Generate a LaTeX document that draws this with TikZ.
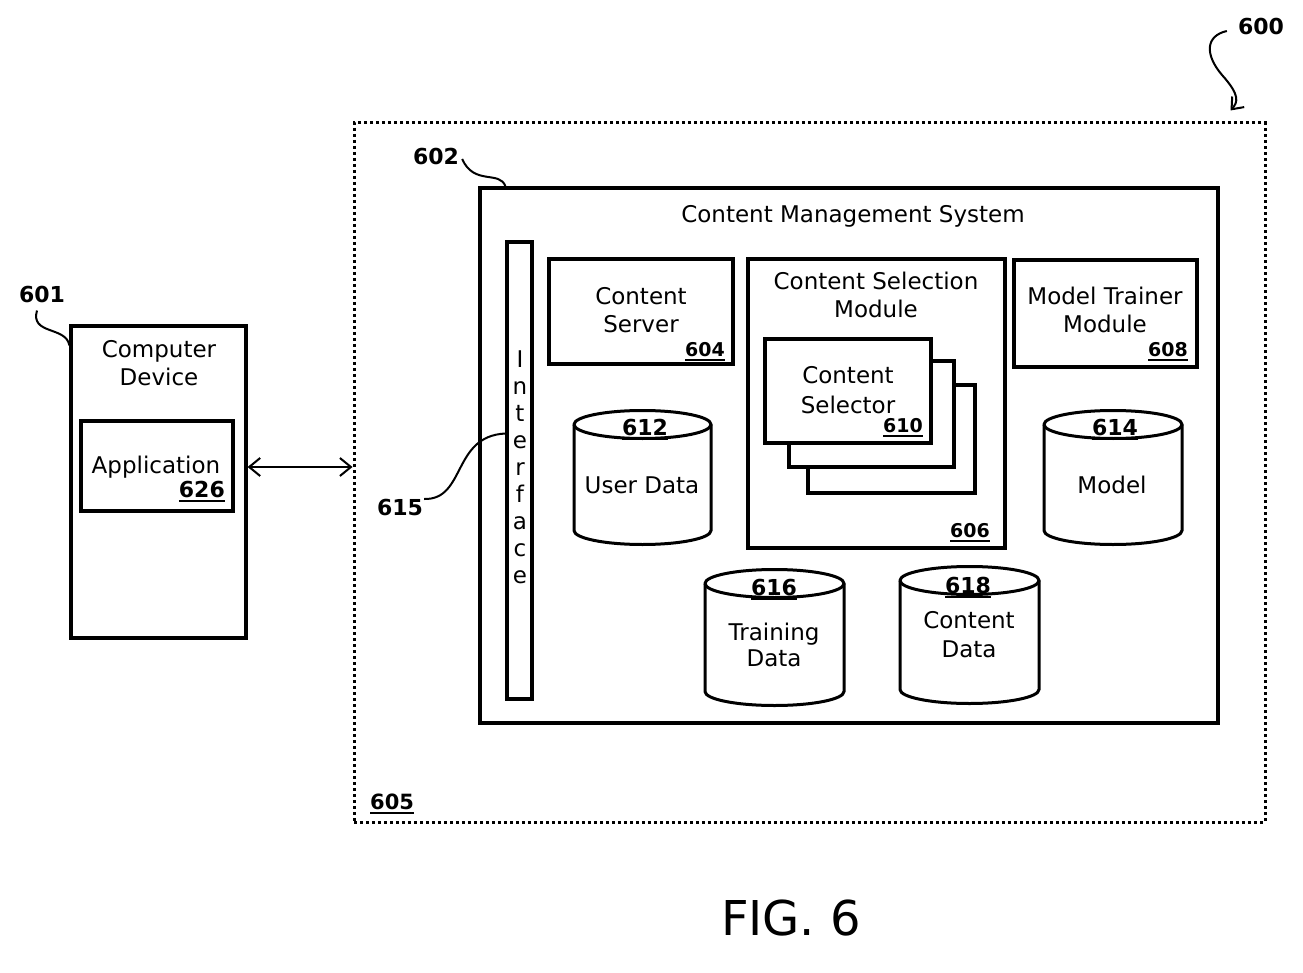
\documentclass[tikz,border=0pt]{standalone}
\usepackage{fontspec}
\setmainfont{DejaVu Sans}
\usetikzlibrary{arrows.meta,fit,calc}
\newcommand{\ulbf}[1]{\vtop{\hbox{\bfseries #1}\kern2.5pt\hrule height 2.2pt}}
\newcommand{\fs}[1]{\fontsize{#1}{#1}\selectfont}
\newcommand{\cyl}[5]{%
  \coordinate (#1) at (#2,{(#3+#4)/2});
  \draw[cylline, fill=white] (#2-#5,#3+14) -- (#2-#5,#4-14)
     arc[start angle=180,end angle=360,x radius=#5pt,y radius=14pt]
     -- (#2+#5,#3+14)
     arc[start angle=0,end angle=180,x radius=#5pt,y radius=14pt] -- cycle;
  \draw[cylline] (#2-#5,#3+14)
     arc[start angle=180,end angle=360,x radius=#5pt,y radius=14pt];
}
\begin{document}
\begin{tikzpicture}[x=1pt,y=-1pt,
  box/.style={draw, line width=3.2pt, fill=white, inner sep=0pt},
  cylline/.style={line width=3pt},
  txt/.style={inner sep=0pt, anchor=base, font=\fs{23}},
  ref/.style={inner sep=0pt, anchor=base, font=\fs{22}\bfseries},
  lead/.style={line width=2pt},
  tipA/.style={line width=2pt, {Straight Barb[length=11pt,width=18pt]}-{Straight Barb[length=11pt,width=18pt]}}
]
\useasboundingbox (0,0) rectangle (1303,973);

% outer dotted system boundary
\node[draw, line width=3pt, dash pattern=on 3pt off 3pt, inner sep=0pt,
      fit={(354,123) (1265,822)}] (outer) {};
\node[inner sep=0pt, anchor=base west, font=\fs{21}] (l605) at (370,809) {\ulbf{605}};

% content management system
\node[box, fit={(480,188) (1218,723)}] (cms) {};
\node[txt] (tcms) at (853,223) {Content Management System};

% interface bar
\node[box, fit={(507,242) (532,699)}] (iface) {};
\foreach \ch [count=\i] in {I,n,t,e,r,f,a,c,e}
  \node[txt] (if\i) at (520,{367+27*(\i-1)}) {\ch};

% content server
\node[box, fit={(549,259) (733,364)}] (cs) {};
\node[txt] (cs1) at (641,305) {Content};
\node[txt] (cs2) at (641,333) {Server};
\node[inner sep=0pt, anchor=base east, font=\fs{19}] (l604) at (725,356) {\ulbf{604}};

% content selection module
\node[box, fit={(748,259) (1005,548)}] (csm) {};
\node[txt] (csm1) at (876,290) {Content Selection};
\node[txt] (csm2) at (876,318) {Module};
\node[inner sep=0pt, anchor=base east, font=\fs{19}] (l606) at (990,537) {\ulbf{606}};

% stacked content selectors
\node[box, fit={(808,385) (975,493)}] (sel3) {};
\node[box, fit={(789,361) (954,467)}] (sel2) {};
\node[box, fit={(765,339) (931,443)}] (sel1) {};
\node[txt] (sel1a) at (848,383) {Content};
\node[txt] (sel1b) at (848,413) {Selector};
\node[inner sep=0pt, anchor=base east, font=\fs{19}] (l610) at (923,432) {\ulbf{610}};

% model trainer module
\node[box, fit={(1014,260) (1197,367)}] (mtm) {};
\node[txt] (mtm1) at (1105,305) {Model Trainer};
\node[txt] (mtm2) at (1105,333) {Module};
\node[inner sep=0pt, anchor=base east, font=\fs{19}] (l608) at (1188,356) {\ulbf{608}};

% data stores
\cyl{ud}{642.5}{410.5}{544.5}{68.5}
\node[ref] (l612) at (645,435) {\ulbf{612}};
\node[txt] (ud1) at (642,493) {User Data};

\cyl{mdl}{1113}{410.5}{544.5}{69}
\node[ref] (l614) at (1115,435) {\ulbf{614}};
\node[txt] (mdl1) at (1112,493) {Model};

\cyl{td}{774.5}{569.5}{705.5}{69.5}
\node[ref] (l616) at (774,595) {\ulbf{616}};
\node[txt] (td1) at (774,640) {Training};
\node[txt] (td2) at (774,666) {Data};

\cyl{cd2}{969.5}{566.5}{703.5}{69.5}
\node[ref] (l618) at (968,593) {\ulbf{618}};
\node[txt] (cd2a) at (969,628) {Content};
\node[txt] (cd2b) at (969,657) {Data};

% computer device
\node[box, fit={(71,326) (246,638)}] (dev) {};
\node[txt] (dev1) at (159,357) {Computer};
\node[txt] (dev2) at (159,385) {Device};
\node[box, fit={(81,421) (233,511)}] (app) {};
\node[txt] (app1) at (156,473) {Application};
\node[inner sep=0pt, anchor=base east, font=\fs{22}] (l626) at (225,497) {\ulbf{626}};

% connection
\draw[tipA] (dev.east |- 0,467) -- (outer.west |- 0,467);

% reference labels and leaders
\node[ref] (l601) at (42,303) {601};
\node[ref] (l602) at (436,165) {602};
\node[ref] (l600) at (1261,35) {600};
\node[ref] (l615) at (400,515) {615};

\draw[lead] ($(l601.south)+(-5,7)$) .. controls (30,335) and (66,326) .. ($(dev.north west)+(0,21)$);
\draw[lead] ($(l602.east)+(3,2)$) .. controls (474,186) and (500,170) .. ($(cms.north west)+(27,0)$);
\draw[lead] ($(l615.east)+(1,-8)$) .. controls (466,500) and (452,436) .. ($(iface.west)+(0,-37)$);
\draw[lead, -{Straight Barb[length=10pt,width=16pt]}] ($(l600.west)+(-11,4)$)
   .. controls (1205,36) and (1205,55) .. (1222,75)
   .. controls (1240,95) and (1238,102) .. ($(outer.north east)+(-36,-11)$);

% figure caption
\node[inner sep=0pt, anchor=base, font=\fs{48}] (fig) at (791,935) {FIG. 6};
\end{tikzpicture}
\end{document}
